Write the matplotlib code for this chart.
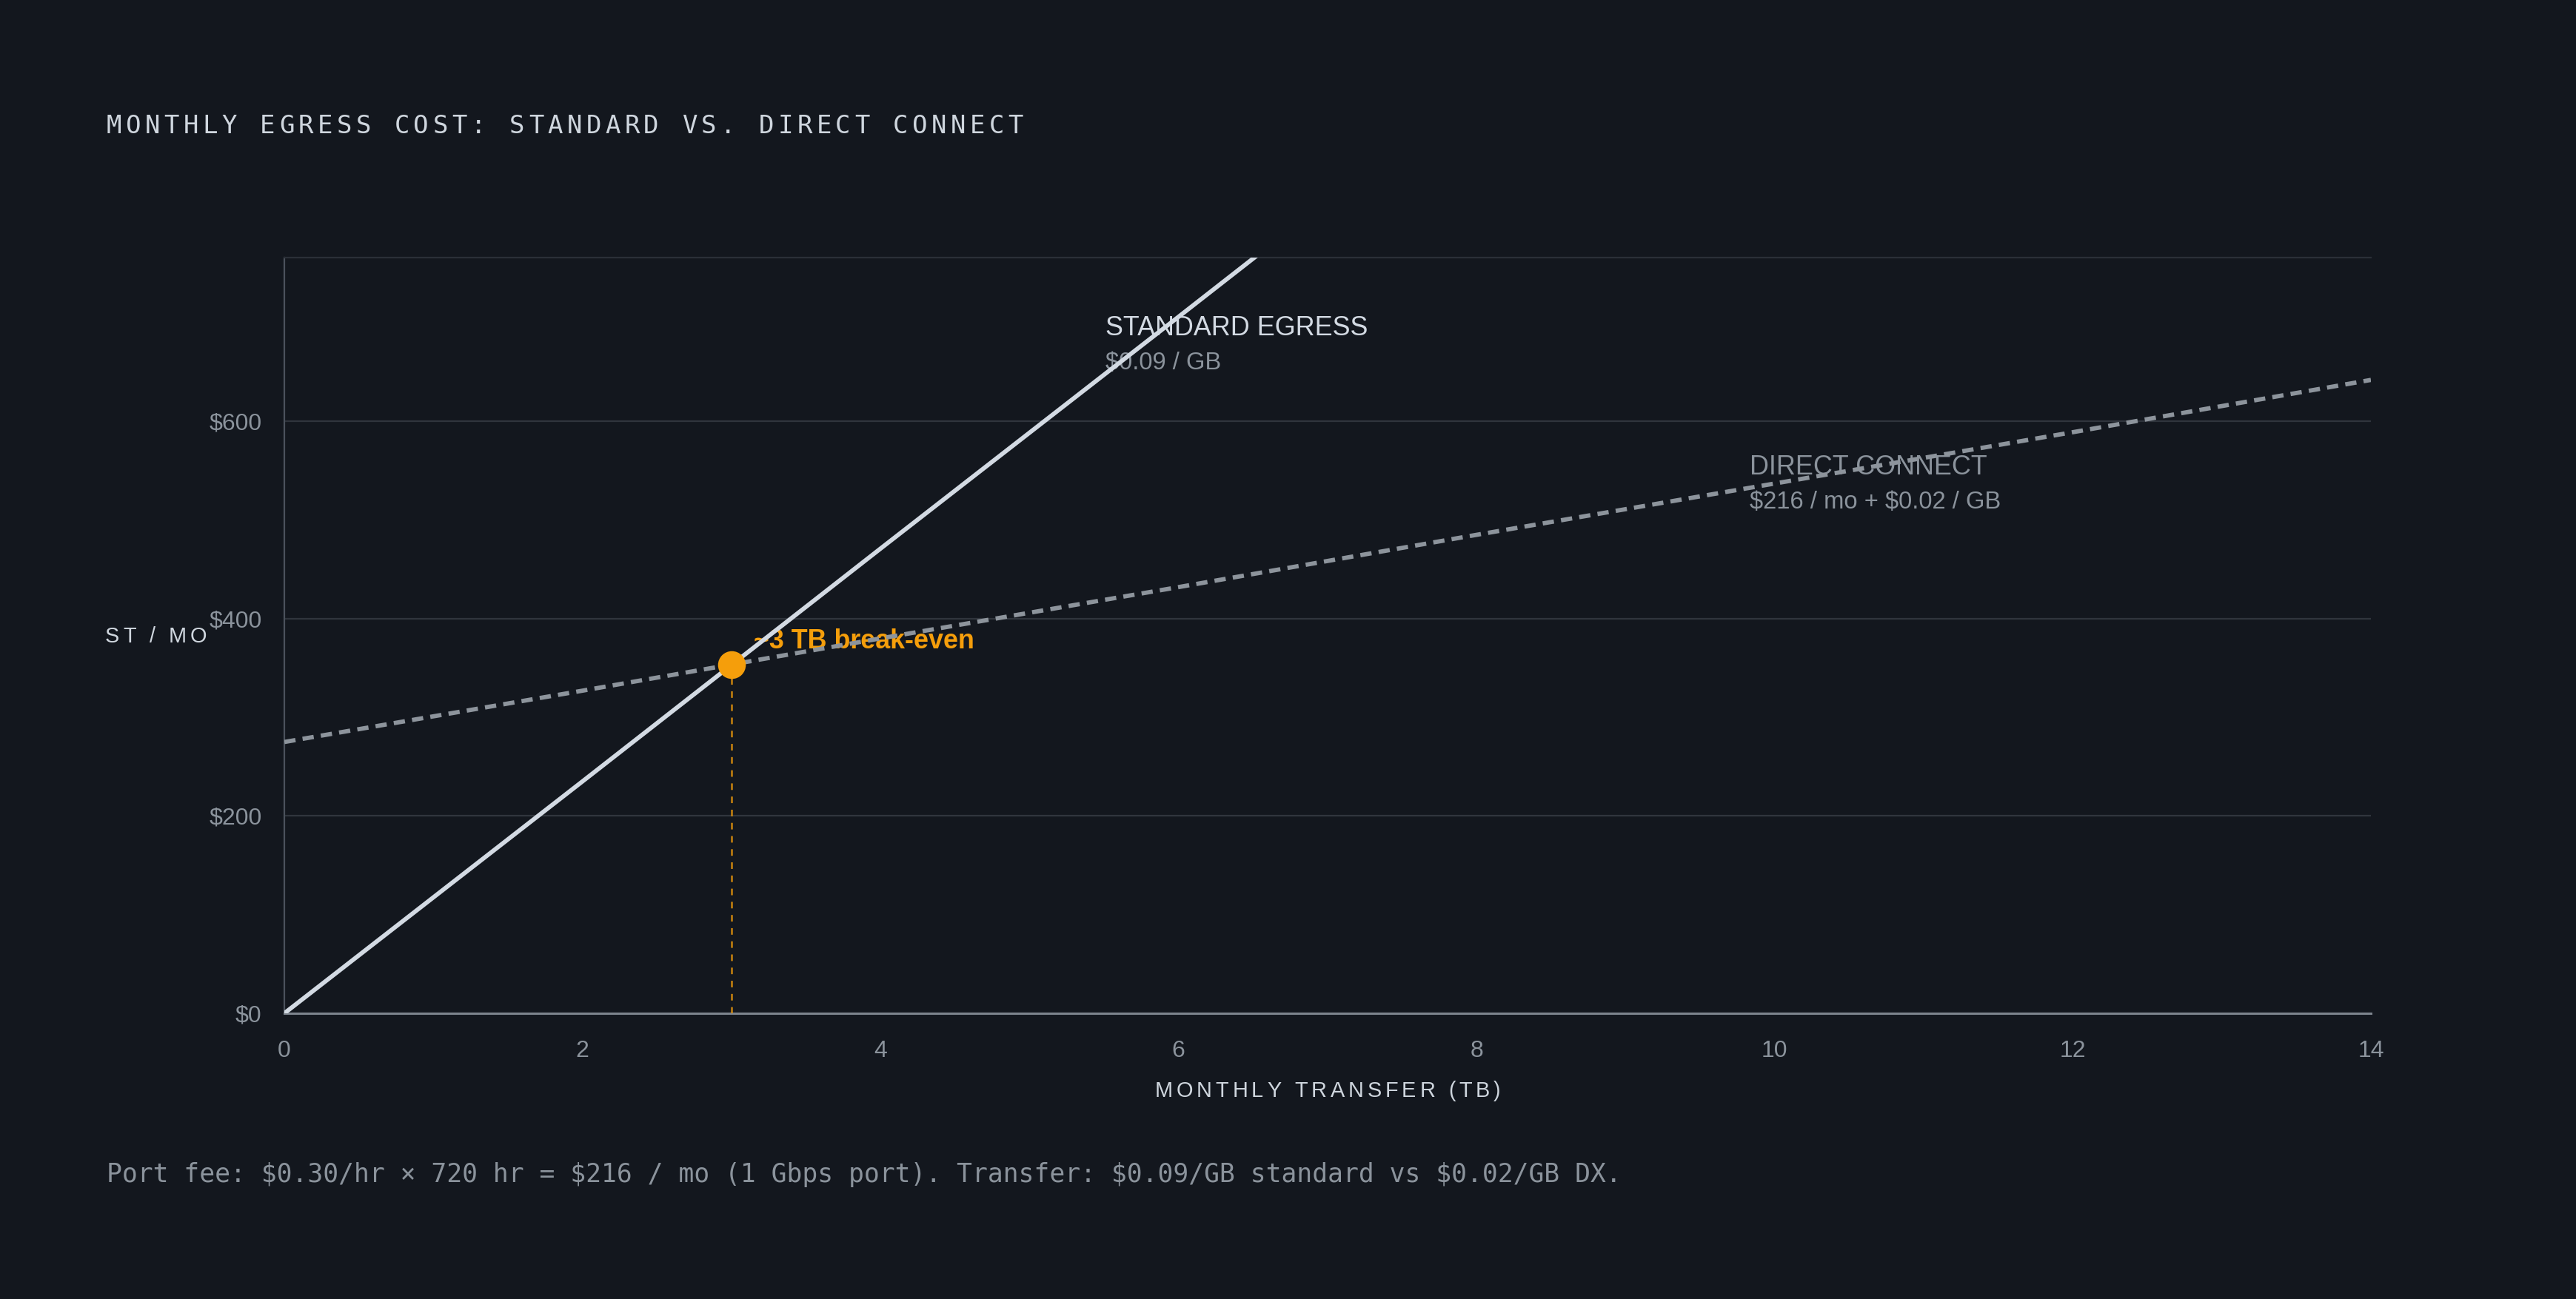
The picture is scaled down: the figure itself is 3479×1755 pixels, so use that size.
import matplotlib
matplotlib.use('Agg')
import matplotlib.pyplot as plt
from matplotlib.font_manager import FontProperties
from matplotlib.transforms import IdentityTransform

# data
tb = [0, 2, 4, 6, 8, 10, 12, 14]
standard_cost = [0, 235, 471, 706, 942, 1177, 1412, 1648]
direct_cost = [275, 327, 380, 432, 485, 537, 589, 642]
breakeven_tb = 3.0
breakeven_cost = 353
x_ticks = [0, 2, 4, 6, 8, 10, 12, 14]
y_ticks = [0, 200, 400, 600]
y_tick_labels = ['$0', '$200', '$400', '$600']

BG = '#13171e'
W, H = 3480, 1755
SANS = 'Liberation Sans'
MONO = 'DejaVu Sans Mono'

plt.rcParams['lines.scale_dashes'] = False
plt.rcParams['text.parse_math'] = False

fig = plt.figure(figsize=(W / 100, H / 100), dpi=100, facecolor=BG)
renderer = fig.canvas.get_renderer()


def spaced_text(x, y, s, size, color, spacing, family, ha='left', weight='normal'):
    # draws text char by char (pixel coords, y from top) to imitate letter-spacing
    prop = FontProperties(family=family, size=size, weight=weight)

    def width(t):
        return renderer.get_text_width_height_descent(t, prop, ismath=False)[0]

    base = width('xx')
    adv = [width('x' + ch + 'x') - base for ch in s]
    total = sum(adv) + spacing * (len(s) - 1)
    if ha == 'center':
        x -= total / 2
    for ch, a in zip(s, adv):
        if ch != ' ':
            fig.text(x, H - y, ch, fontproperties=prop, color=color,
                     transform=IdentityTransform(), ha='left', va='center')
        x += a + spacing


ax = fig.add_axes([384 / W, 1 - 1369 / H, (3202 - 384) / W, (1369 - 348) / H])
ax.set_facecolor(BG)

ax.plot(tb, standard_cost, color='#d3dae3', lw=4.2, zorder=4, solid_capstyle='round')
ax.plot(tb, direct_cost, color='#8d949c', lw=4.2, dashes=(11, 7), zorder=4)

ax.plot([breakeven_tb, breakeven_tb], [0, breakeven_cost], color='#f59e0b', lw=1.8,
        dashes=(6.4, 6.4), alpha=0.8, zorder=3)
ax.plot(breakeven_tb, breakeven_cost, 'o', color='#f59e0b', ms=27, mec='none', zorder=5)

ax.annotate('~3 TB break-even', (breakeven_tb, breakeven_cost), xytext=(22, 23),
            textcoords='offset points', color='#f59e0b', fontsize=25.8, fontweight='bold',
            family=SANS, ha='left', va='center', zorder=2)

ax.text(5.51, 694, 'STANDARD EGRESS', color='#d3dae3', fontsize=25.8, family=SANS,
        ha='left', va='center', zorder=2)
ax.text(5.51, 659, '$0.09 / GB', color='#8b939c', fontsize=23.6, family=SANS,
        ha='left', va='center', zorder=2)
ax.text(9.83, 553, 'DIRECT CONNECT', color='#8b939c', fontsize=25.8, family=SANS,
        ha='left', va='center', zorder=2)
ax.text(9.83, 518, '$216 / mo + $0.02 / GB', color='#8b939c', fontsize=23.6, family=SANS,
        ha='left', va='center', zorder=2)

ax.set_xlim(0, 14)
ax.set_ylim(0, 766)
ax.set_xticks(x_ticks)
ax.set_yticks(y_ticks)
ax.set_yticklabels(y_tick_labels)
ax.tick_params(length=0, colors='#8b939c', labelsize=23)
ax.tick_params(axis='y', pad=22)
ax.tick_params(axis='x', pad=26)
for lab in ax.get_xticklabels() + ax.get_yticklabels():
    lab.set_family(SANS)

ax.grid(axis='y', color='#30353d', lw=1.6, zorder=0)
ax.grid(axis='x', visible=False)
ax.spines['right'].set_visible(False)
ax.spines['top'].set_color('#2a2f37')
ax.spines['top'].set_linewidth(1.6)
ax.spines['left'].set_color('#4b525c')
ax.spines['left'].set_linewidth(1.6)
ax.spines['bottom'].set_color('#7d848d')
ax.spines['bottom'].set_linewidth(2.2)

# title, axis labels, footer
spaced_text(144, 171, 'MONTHLY EGRESS COST: STANDARD VS. DIRECT CONNECT', 24.5, '#cfd6de', 5.4, MONO)
spaced_text(1793, 1474, 'MONTHLY TRANSFER (TB)', 20.8, '#cfd6de', 4.9, SANS, ha='center')
spaced_text(142, 860, 'ST / MO', 20.8, '#cfd6de', 4.9, SANS)
fig.text(144 / W, 1 - 1587 / H,
         'Port fee: $0.30/hr \u00d7 720 hr = $216 / mo (1 Gbps port). '
         'Transfer: $0.09/GB standard vs $0.02/GB DX.',
         color='#8b939c', fontsize=24.9, family=MONO, ha='left', va='center')

fig.savefig('out.png', dpi=100, facecolor=BG)
